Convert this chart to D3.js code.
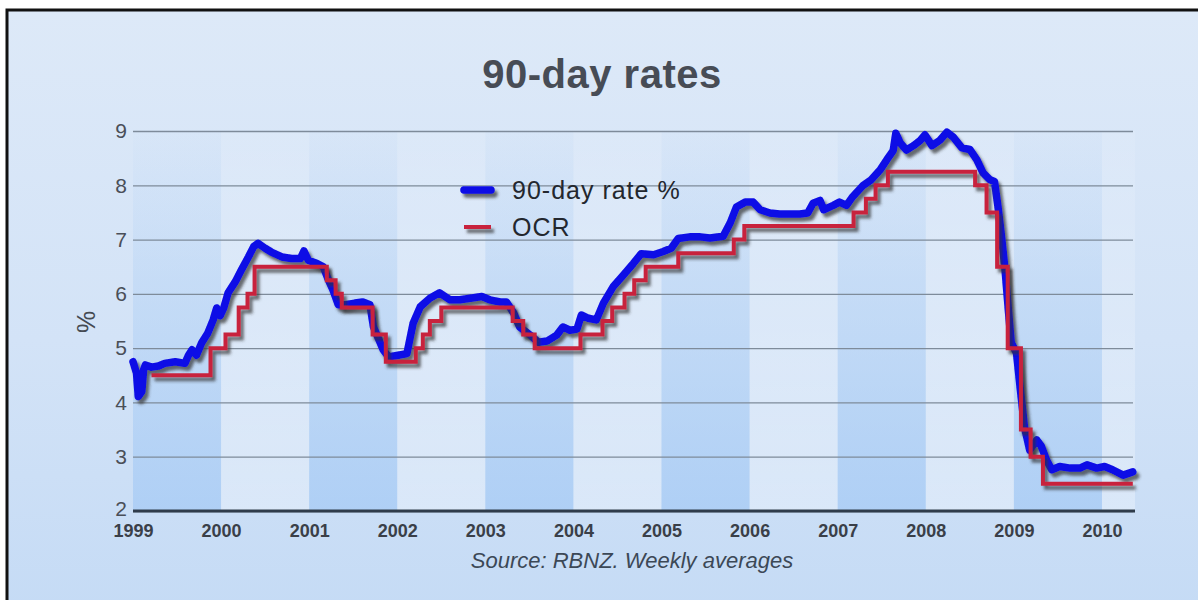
<!DOCTYPE html>
<html>
<head>
<meta charset="utf-8">
<script src="https://cdn.jsdelivr.net/npm/d3@7"></script>
<style>
  html, body { margin: 0; padding: 0; background: #ffffff; }
  svg { display: block; font-family: "Liberation Sans", Arial, Helvetica, sans-serif; }
</style>
</head>
<body>
<svg id="chart" width="1198" height="600"></svg>
<script>
// ---- data -------------------------------------------------------------
const years = [1999, 2000, 2001, 2002, 2003, 2004, 2005, 2006, 2007, 2008, 2009, 2010];
const valueTicks = [2, 3, 4, 5, 6, 7, 8, 9];

// 90-day bank bill rate, weekly averages (decimal year, %)
const rateDates = [
  1999.00, 1999.04, 1999.06, 1999.10, 1999.12, 1999.14, 1999.21, 1999.29, 1999.36, 1999.48,
  1999.59, 1999.63, 1999.67, 1999.72, 1999.78, 1999.85, 1999.91, 1999.95, 1999.99, 2000.03,
  2000.08, 2000.16, 2000.23, 2000.31, 2000.37, 2000.42, 2000.50, 2000.57, 2000.69, 2000.80,
  2000.90, 2000.94, 2000.99, 2001.09, 2001.16, 2001.22, 2001.27, 2001.33, 2001.41, 2001.52,
  2001.61, 2001.69, 2001.73, 2001.78, 2001.84, 2001.90, 2002.01, 2002.11, 2002.18, 2002.26,
  2002.37, 2002.48, 2002.60, 2002.71, 2002.83, 2002.96, 2003.05, 2003.17, 2003.24, 2003.32,
  2003.39, 2003.51, 2003.60, 2003.70, 2003.81, 2003.88, 2003.96, 2004.04, 2004.09, 2004.17,
  2004.26, 2004.34, 2004.45, 2004.57, 2004.68, 2004.77, 2004.91, 2005.02, 2005.11, 2005.19,
  2005.32, 2005.44, 2005.55, 2005.70, 2005.78, 2005.85, 2005.95, 2006.04, 2006.12, 2006.23,
  2006.34, 2006.46, 2006.57, 2006.66, 2006.72, 2006.80, 2006.84, 2006.95, 2007.02, 2007.10,
  2007.17, 2007.29, 2007.38, 2007.48, 2007.57, 2007.63, 2007.66, 2007.71, 2007.78, 2007.86,
  2007.94, 2007.99, 2008.07, 2008.16, 2008.24, 2008.31, 2008.41, 2008.50, 2008.58, 2008.65,
  2008.73, 2008.78, 2008.82, 2008.86, 2008.90, 2008.94, 2008.97, 2009.03, 2009.07, 2009.12,
  2009.18, 2009.26, 2009.31, 2009.37, 2009.43, 2009.52, 2009.64, 2009.75, 2009.83, 2009.94,
  2010.03, 2010.12, 2010.24, 2010.35
];
const rateValues = [
  4.75, 4.54, 4.11, 4.20, 4.60, 4.69, 4.65, 4.67, 4.72, 4.75,
  4.72, 4.87, 4.97, 4.87, 5.10, 5.28, 5.52, 5.74, 5.60, 5.74,
  6.02, 6.22, 6.44, 6.68, 6.87, 6.93, 6.84, 6.77, 6.68, 6.65,
  6.65, 6.79, 6.62, 6.56, 6.50, 6.25, 6.07, 5.80, 5.80, 5.83,
  5.85, 5.80, 5.39, 5.20, 4.97, 4.84, 4.87, 4.90, 5.46, 5.76,
  5.92, 6.02, 5.89, 5.89, 5.92, 5.95, 5.89, 5.85, 5.85, 5.65,
  5.39, 5.24, 5.11, 5.13, 5.24, 5.39, 5.33, 5.35, 5.61, 5.55,
  5.52, 5.83, 6.13, 6.35, 6.56, 6.74, 6.72, 6.78, 6.84, 7.02,
  7.05, 7.05, 7.03, 7.06, 7.31, 7.60, 7.69, 7.69, 7.55, 7.49,
  7.47, 7.47, 7.47, 7.49, 7.67, 7.72, 7.55, 7.63, 7.69, 7.63,
  7.79, 8.00, 8.10, 8.28, 8.50, 8.64, 8.96, 8.78, 8.65, 8.73,
  8.83, 8.93, 8.73, 8.83, 8.98, 8.89, 8.69, 8.66, 8.47, 8.23,
  8.10, 8.07, 7.60, 7.05, 6.44, 5.65, 5.10, 4.91, 4.29, 3.55,
  3.12, 3.31, 3.20, 2.94, 2.76, 2.82, 2.79, 2.79, 2.85, 2.79,
  2.82, 2.76, 2.66, 2.72
];

// Official Cash Rate, decision dates (decimal year, %)
const ocrDates = [
  1999.21, 1999.88, 2000.05, 2000.20, 2000.30, 2000.38, 2001.20, 2001.30, 2001.37, 2001.72,
  2001.87, 2002.21, 2002.29, 2002.37, 2002.50, 2003.31, 2003.43, 2003.56, 2004.08, 2004.33,
  2004.44, 2004.58, 2004.69, 2004.82, 2005.19, 2005.82, 2005.94, 2007.18, 2007.32, 2007.43,
  2007.57, 2008.56, 2008.69, 2008.81, 2008.93, 2009.08, 2009.19, 2009.33, 2010.35
];
const ocrValues = [
  4.50, 5.00, 5.25, 5.75, 6.00, 6.50, 6.25, 6.00, 5.75, 5.25,
  4.75, 5.00, 5.25, 5.50, 5.75, 5.50, 5.25, 5.00, 5.25, 5.50,
  5.75, 6.00, 6.25, 6.50, 6.75, 7.00, 7.25, 7.50, 7.75, 8.00,
  8.25, 8.00, 7.50, 6.50, 5.00, 3.50, 3.00, 2.50, 2.50
];

const seriesNames = ["90-day rate %", "OCR"];
const seriesColors = ["#0a0ae6", "#c8203c"];

// ---- layout ------------------------------------------------------------
const W = 1198, H = 600;
const plotLeft = 133, plotRight = 1135, plotTop = 131, plotBottom = 511;

const svg = d3.select("#chart");
const x = d3.scaleLinear().domain([1999, 2010.375]).range([plotLeft, plotRight]);
const y = d3.scaleLinear().domain([2, 9]).range([plotBottom, plotTop]);

const defs = svg.append("defs");

const bg = defs.append("linearGradient").attr("id", "bgGrad")
  .attr("x1", 0).attr("y1", 0).attr("x2", 0).attr("y2", 1);
bg.append("stop").attr("offset", "0%").attr("stop-color", "#dde9f8");
bg.append("stop").attr("offset", "55%").attr("stop-color", "#d3e3f7");
bg.append("stop").attr("offset", "100%").attr("stop-color", "#c5dbf5");

const bandDark = defs.append("linearGradient").attr("id", "bandDark")
  .attr("gradientUnits", "userSpaceOnUse")
  .attr("x1", 0).attr("y1", plotBottom).attr("x2", 0).attr("y2", plotTop);
bandDark.append("stop").attr("offset", "0%").attr("stop-color", "#a3c9f5").attr("stop-opacity", 0.7);
bandDark.append("stop").attr("offset", "60%").attr("stop-color", "#aacdf5").attr("stop-opacity", 0.35);
bandDark.append("stop").attr("offset", "100%").attr("stop-color", "#b4d2f5").attr("stop-opacity", 0.05);

const bandLight = defs.append("linearGradient").attr("id", "bandLight")
  .attr("gradientUnits", "userSpaceOnUse")
  .attr("x1", 0).attr("y1", plotBottom).attr("x2", 0).attr("y2", plotTop);
bandLight.append("stop").attr("offset", "0%").attr("stop-color", "#ffffff").attr("stop-opacity", 0.3);
bandLight.append("stop").attr("offset", "100%").attr("stop-color", "#ffffff").attr("stop-opacity", 0.08);

// soft grey drop shadow under the series lines and legend keys
const shadow = defs.append("filter").attr("id", "shadow")
  .attr("filterUnits", "userSpaceOnUse")
  .attr("x", 0).attr("y", 0).attr("width", W).attr("height", H);
shadow.append("feGaussianBlur").attr("in", "SourceAlpha").attr("stdDeviation", 1.5).attr("result", "blur");
shadow.append("feOffset").attr("in", "blur").attr("dx", 3).attr("dy", 3.5).attr("result", "off");
shadow.append("feFlood").attr("flood-color", "#333333").attr("flood-opacity", 0.7).attr("result", "col");
shadow.append("feComposite").attr("in", "col").attr("in2", "off").attr("operator", "in").attr("result", "sh");
const merge = shadow.append("feMerge");
merge.append("feMergeNode").attr("in", "sh");
merge.append("feMergeNode").attr("in", "SourceGraphic");

// ---- background and frame ---------------------------------------------
svg.append("rect").attr("x", 7).attr("y", 10).attr("width", W).attr("height", H)
  .attr("fill", "url(#bgGrad)").attr("stroke", "#111").attr("stroke-width", 3);

// alternating year bands
const bandEdges = years.concat([2010.375]);
svg.append("g").selectAll("rect")
  .data(d3.range(years.length))
  .join("rect")
  .attr("x", i => x(bandEdges[i]))
  .attr("y", plotTop)
  .attr("width", i => x(bandEdges[i + 1]) - x(bandEdges[i]))
  .attr("height", plotBottom - plotTop)
  .attr("fill", i => (years[i] % 2 === 1 ? "url(#bandDark)" : "url(#bandLight)"));

// ---- title ---------------------------------------------------------------
svg.append("text")
  .attr("x", 602).attr("y", 88)
  .attr("text-anchor", "middle")
  .attr("font-size", 40).attr("font-weight", "bold")
  .attr("letter-spacing", 0.5)
  .attr("fill", "#474c55")
  .text("90-day rates");

// ---- y axis with gridlines ---------------------------------------------
const yAxis = svg.append("g")
  .attr("transform", `translate(${plotLeft},0)`)
  .call(d3.axisLeft(y).tickValues(valueTicks).tickSize(-(plotRight - 2 - plotLeft)).tickPadding(6).tickFormat(d3.format("d")));
yAxis.select(".domain").remove();
yAxis.selectAll(".tick line").attr("stroke", "#7e8b9a").attr("stroke-width", 1.3);
yAxis.selectAll(".tick text")
  .attr("font-size", 21).attr("fill", "#4a4f58")
  .attr("font-family", "\"Liberation Sans\", Arial, sans-serif");
// lift the bottom label a little so it clears the year labels
yAxis.selectAll(".tick text").filter(d => d === 2).attr("dy", "0.2em");

svg.append("text")
  .attr("transform", "translate(95,322) rotate(-90)")
  .attr("text-anchor", "middle")
  .attr("font-size", 25).attr("fill", "#454a52")
  .text("%");

// ---- x axis --------------------------------------------------------------
const xAxis = svg.append("g")
  .attr("transform", `translate(0,${plotBottom})`)
  .call(d3.axisBottom(x).tickValues(years).tickSize(0).tickPadding(13).tickFormat(d3.format("d")));
xAxis.select(".domain").remove();
xAxis.selectAll(".tick text")
  .attr("font-size", 18).attr("font-weight", "bold").attr("fill", "#3a3f48")
  .attr("font-family", "\"Liberation Sans\", Arial, sans-serif");

svg.append("line")
  .attr("x1", plotLeft).attr("x2", plotRight)
  .attr("y1", y(2)).attr("y2", y(2))
  .attr("stroke", "#2f3c4b").attr("stroke-width", 3);

// ---- series --------------------------------------------------------------
const rateData = rateDates.map((d, i) => [d, rateValues[i]]);
const ocrData = ocrDates.map((d, i) => [d, ocrValues[i]]);

const rateLine = d3.line().x(d => x(d[0])).y(d => y(d[1]));
const ocrLine = d3.line().curve(d3.curveStepAfter).x(d => x(d[0])).y(d => y(d[1]));

svg.append("path")
  .datum(rateData)
  .attr("d", rateLine)
  .attr("fill", "none")
  .attr("stroke", seriesColors[0])
  .attr("stroke-width", 7.5)
  .attr("stroke-linejoin", "round")
  .attr("stroke-linecap", "round")
  .attr("filter", "url(#shadow)");

svg.append("path")
  .datum(ocrData)
  .attr("d", ocrLine)
  .attr("fill", "none")
  .attr("stroke", seriesColors[1])
  .attr("stroke-width", 4)
  .attr("stroke-linejoin", "miter")
  .attr("filter", "url(#shadow)");

// ---- legend --------------------------------------------------------------
const legend = svg.append("g");
const legendRows = [{ y: 190, w: 7.5 }, { y: 227, w: 4 }];
legendRows.forEach((r, i) => {
  legend.append("line")
    .attr("x1", 464).attr("x2", 491)
    .attr("y1", r.y).attr("y2", r.y)
    .attr("stroke", seriesColors[i]).attr("stroke-width", r.w)
    .attr("stroke-linecap", i === 0 ? "round" : "butt")
    .attr("filter", "url(#shadow)");
  legend.append("text")
    .attr("x", 512).attr("y", r.y + 9)
    .attr("font-size", 25).attr("letter-spacing", 1)
    .attr("fill", "#23272e")
    .text(seriesNames[i]);
});

// ---- source note -----------------------------------------------------------
svg.append("text")
  .attr("x", 632).attr("y", 568)
  .attr("text-anchor", "middle")
  .attr("font-size", 22).attr("font-style", "italic")
  .attr("fill", "#3c4856")
  .text("Source: RBNZ. Weekly averages");
</script>
</body>
</html>
